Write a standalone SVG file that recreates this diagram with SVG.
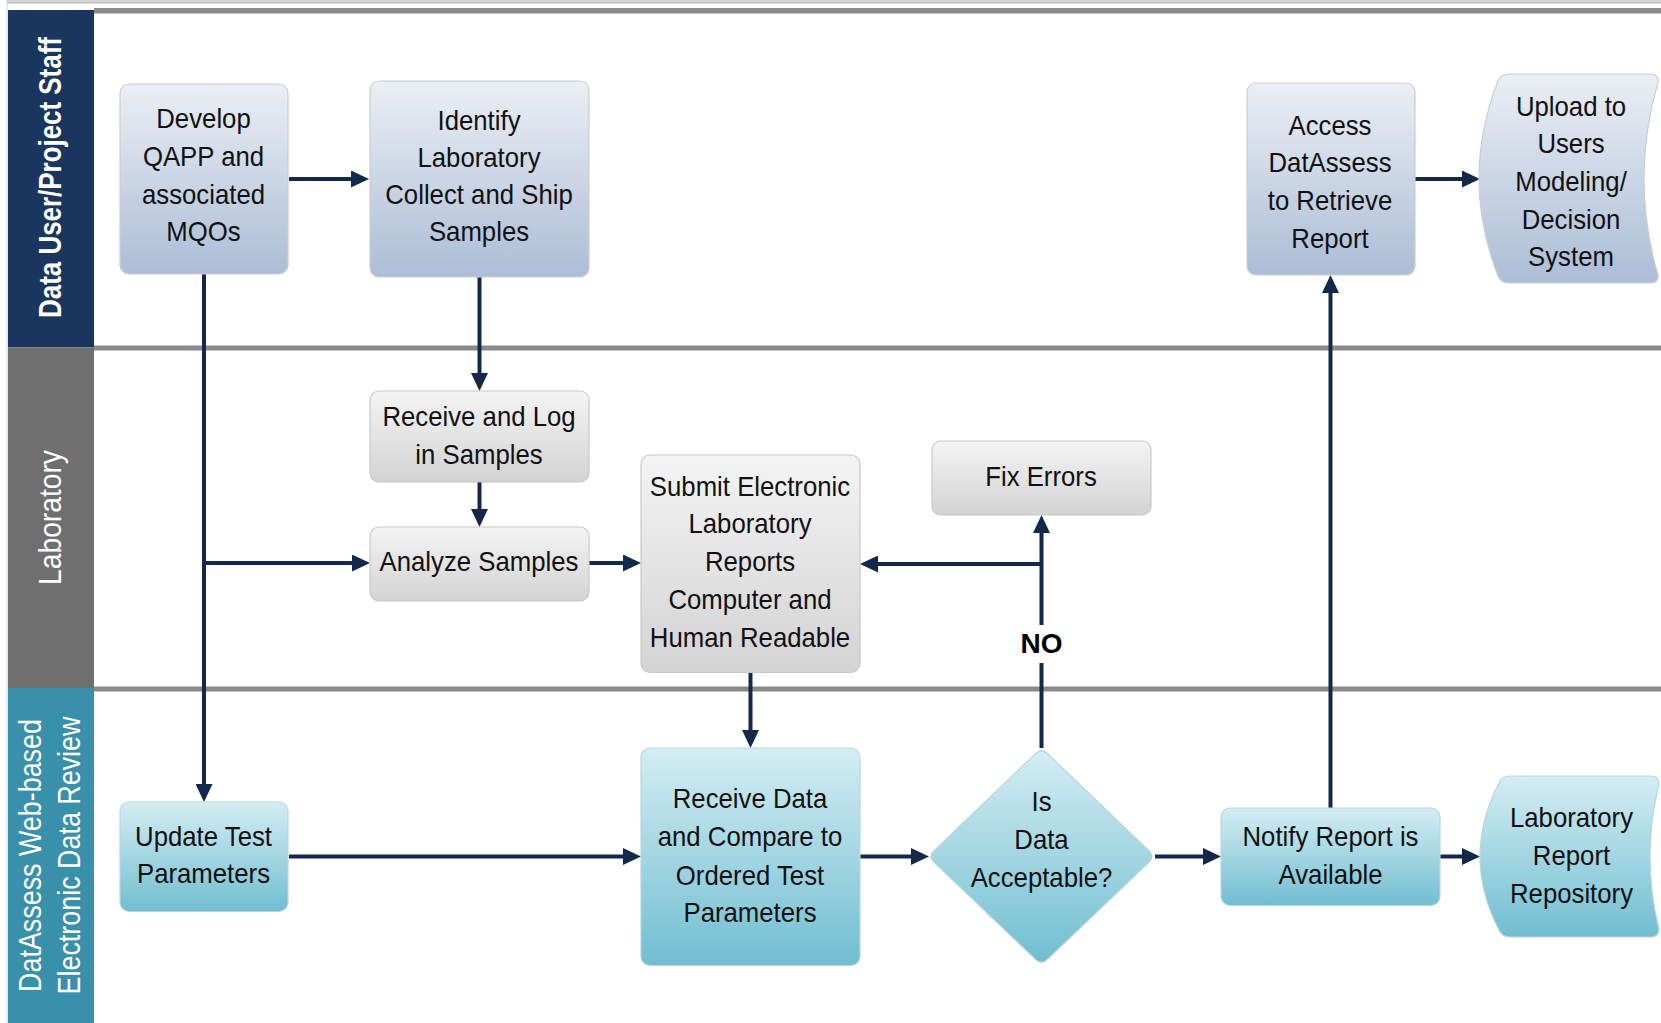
<svg xmlns="http://www.w3.org/2000/svg" width="1661" height="1023" viewBox="0 0 1661 1023">
<defs>
<style>
.lbl{font-family:'Liberation Sans',Arial,sans-serif;fill:#ffffff;text-anchor:middle}
.t{font-family:'Liberation Sans',Arial,sans-serif;font-size:28px;fill:#111111;text-anchor:middle}
.no{font-family:'Liberation Sans',Arial,sans-serif;font-size:28px;font-weight:bold;fill:#000000;text-anchor:middle}
.conn{fill:none;stroke:#13284a;stroke-width:4}
.arr{marker-end:url(#ah)}
.n1{fill:url(#g1);stroke:#c8ced8;stroke-width:1.2}
.n2{fill:url(#g2);stroke:#c8c8c8;stroke-width:1.2}
.n3{fill:url(#g3);stroke:#b9d6de;stroke-width:1.2}
.div{fill:#8a8a8a}
</style>
<linearGradient id="g1" x1="0" y1="0" x2="0" y2="1">
<stop offset="0" stop-color="#ebeff5"/><stop offset="1" stop-color="#acbdd6"/>
</linearGradient>
<linearGradient id="g2" x1="0" y1="0" x2="0" y2="1">
<stop offset="0" stop-color="#f4f4f4"/><stop offset="1" stop-color="#d3d3d3"/>
</linearGradient>
<linearGradient id="g3" x1="0" y1="0" x2="0" y2="1">
<stop offset="0" stop-color="#d4edf3"/><stop offset="1" stop-color="#71bed1"/>
</linearGradient>
<marker id="ah" markerUnits="userSpaceOnUse" markerWidth="18" markerHeight="17" refX="8" refY="8.5" orient="auto">
<path d="M0,0 L18,8.5 L0,17 Z" fill="#13284a"/>
</marker>
</defs>

<rect x="0" y="0" width="1661" height="1023" fill="#ffffff"/>

<g id="frame">
<rect x="7" y="0" width="1654" height="3" fill="#d4d4d4"/>
<line x1="7" y1="3" x2="1661" y2="3" stroke="#b4b4b4" stroke-width="1"/>
<line x1="7" y1="0" x2="7" y2="1023" stroke="#d2d2d2" stroke-width="1"/>
<rect class="div" x="94" y="8" width="1567" height="5.5"/>
<rect class="div" x="94" y="345.5" width="1567" height="5"/>
<rect class="div" x="94" y="686.5" width="1567" height="5"/>
</g>

<g id="lane-data-user">
<rect x="8" y="10" width="86" height="337.5" fill="#1b365e"/>
<text class="lbl" font-size="32" font-weight="bold" transform="translate(60.5 177.5) rotate(-90) scale(0.81 1)" x="0" y="0">Data User/Project Staff</text>
</g>
<g id="lane-laboratory">
<rect x="8" y="347.5" width="86" height="340.5" fill="#6f6f6f"/>
<text class="lbl" font-size="31" transform="translate(61 517.5) rotate(-90) scale(0.91 1)" x="0" y="0">Laboratory</text>
</g>
<g id="lane-datassess">
<rect x="8" y="688" width="86" height="335" fill="#3990aa"/>
<text class="lbl" font-size="32" transform="translate(41 855.5) rotate(-90) scale(0.84 1)" x="0" y="0">DatAssess Web-based</text>
<text class="lbl" font-size="32" transform="translate(79.5 855.5) rotate(-90) scale(0.84 1)" x="0" y="0">Electronic Data Review</text>
</g>

<g id="connectors">
<path class="conn arr" d="M289,179 H359"/>
<path class="conn arr" d="M479.5,277 V381"/>
<path class="conn arr" d="M204,274 V792"/>
<path class="conn arr" d="M204,563 H360"/>
<path class="conn arr" d="M479.5,482 V517"/>
<path class="conn arr" d="M589,563 H631"/>
<path class="conn" d="M1041.5,748 V663"/>
<path class="conn arr" d="M1041.5,625 V525"/>
<path class="conn arr" d="M1041.5,564 H870"/>
<path class="conn arr" d="M750.5,672 V738"/>
<path class="conn arr" d="M289,856.5 H631"/>
<path class="conn arr" d="M860,856.5 H919"/>
<path class="conn arr" d="M1155,856.5 H1211"/>
<path class="conn arr" d="M1330.5,808 V285"/>
<path class="conn arr" d="M1415,179 H1470"/>
<path class="conn arr" d="M1440,856.5 H1470"/>
<text class="no" x="1041.5" y="652.5">NO</text>
</g>

<g id="develop-qapp">
<rect class="n1" x="120" y="84" width="168" height="190" rx="9"/>
<g transform="translate(203.5 0) scale(0.92 1)">
<text class="t" x="0" y="128.5">Develop</text>
<text class="t" x="0" y="166.5">QAPP and</text>
<text class="t" x="0" y="204">associated</text>
<text class="t" x="0" y="241.5">MQOs</text>
</g>
</g>

<g id="identify-lab">
<rect class="n1" x="370" y="81" width="219" height="196" rx="9"/>
<g transform="translate(479 0) scale(0.92 1)">
<text class="t" x="0" y="130">Identify</text>
<text class="t" x="0" y="167">Laboratory</text>
<text class="t" x="0" y="204">Collect and Ship</text>
<text class="t" x="0" y="241">Samples</text>
</g>
</g>

<g id="access-datassess">
<rect class="n1" x="1247" y="83" width="168" height="192" rx="9"/>
<g transform="translate(1330 0) scale(0.92 1)">
<text class="t" x="0" y="135">Access</text>
<text class="t" x="0" y="172">DatAssess</text>
<text class="t" x="0" y="210">to Retrieve</text>
<text class="t" x="0" y="248">Report</text>
</g>
</g>

<g id="upload-users">
<path class="n1" d="M1509,74 H1650 Q1659,74 1658,82 Q1630,178.5 1658,275 Q1659,283 1650,283 H1509 Q1501,283 1498,276 Q1460,178.5 1498,81 Q1501,74 1509,74 Z"/>
<g transform="translate(1571 0) scale(0.92 1)">
<text class="t" x="0" y="116">Upload to</text>
<text class="t" x="0" y="153.5">Users</text>
<text class="t" x="0" y="191.5">Modeling/</text>
<text class="t" x="0" y="229">Decision</text>
<text class="t" x="0" y="266.5">System</text>
</g>
</g>

<g id="receive-log">
<rect class="n2" x="370" y="391" width="219" height="91" rx="9"/>
<g transform="translate(479 0) scale(0.92 1)">
<text class="t" x="0" y="426.5">Receive and Log</text>
<text class="t" x="0" y="464">in Samples</text>
</g>
</g>

<g id="analyze-samples">
<rect class="n2" x="370" y="527" width="219" height="74" rx="9"/>
<g transform="translate(479 0) scale(0.92 1)">
<text class="t" x="0" y="571.5">Analyze Samples</text>
</g>
</g>

<g id="submit-reports">
<rect class="n2" x="641" y="455" width="219" height="217.5" rx="9"/>
<g transform="translate(750 0) scale(0.92 1)">
<text class="t" x="0" y="496">Submit Electronic</text>
<text class="t" x="0" y="533.5">Laboratory</text>
<text class="t" x="0" y="571.5">Reports</text>
<text class="t" x="0" y="609.5">Computer and</text>
<text class="t" x="0" y="647.5">Human Readable</text>
</g>
</g>

<g id="fix-errors">
<rect class="n2" x="932" y="441" width="219" height="74" rx="9"/>
<g transform="translate(1041 0) scale(0.92 1)">
<text class="t" x="0" y="486.5">Fix Errors</text>
</g>
</g>

<g id="update-test">
<rect class="n3" x="120" y="802" width="168" height="109.5" rx="9"/>
<g transform="translate(203.5 0) scale(0.92 1)">
<text class="t" x="0" y="846">Update Test</text>
<text class="t" x="0" y="883.5">Parameters</text>
</g>
</g>

<g id="receive-data">
<rect class="n3" x="641" y="748" width="219" height="217.5" rx="9"/>
<g transform="translate(750 0) scale(0.92 1)">
<text class="t" x="0" y="808.5">Receive Data</text>
<text class="t" x="0" y="846.5">and Compare to</text>
<text class="t" x="0" y="885">Ordered Test</text>
<text class="t" x="0" y="922.5">Parameters</text>
</g>
</g>

<g id="is-data-acceptable">
<path class="n3" d="M1035.7,753.5 Q1041.5,748 1047.3,753.5 L1149.2,851 Q1155,856.5 1149.2,862 L1047.3,959.5 Q1041.5,965 1035.7,959.5 L933.8,862 Q928,856.5 933.8,851 Z"/>
<g transform="translate(1041.5 0) scale(0.92 1)">
<text class="t" x="0" y="811">Is</text>
<text class="t" x="0" y="849">Data</text>
<text class="t" x="0" y="887">Acceptable?</text>
</g>
</g>

<g id="notify-report">
<rect class="n3" x="1221" y="808" width="219" height="97.5" rx="9"/>
<g transform="translate(1330.5 0) scale(0.92 1)">
<text class="t" x="0" y="846.5">Notify Report is</text>
<text class="t" x="0" y="884">Available</text>
</g>
</g>

<g id="lab-report-repository">
<path class="n3" d="M1510,776 H1651 Q1659,776 1659,784 Q1641,856.5 1659,929 Q1659,937 1651,937 H1510 Q1502,937 1499,930 Q1461,856.5 1499,783 Q1502,776 1510,776 Z"/>
<g transform="translate(1571.5 0) scale(0.92 1)">
<text class="t" x="0" y="827.5">Laboratory</text>
<text class="t" x="0" y="865.5">Report</text>
<text class="t" x="0" y="903">Repository</text>
</g>
</g>
</svg>
